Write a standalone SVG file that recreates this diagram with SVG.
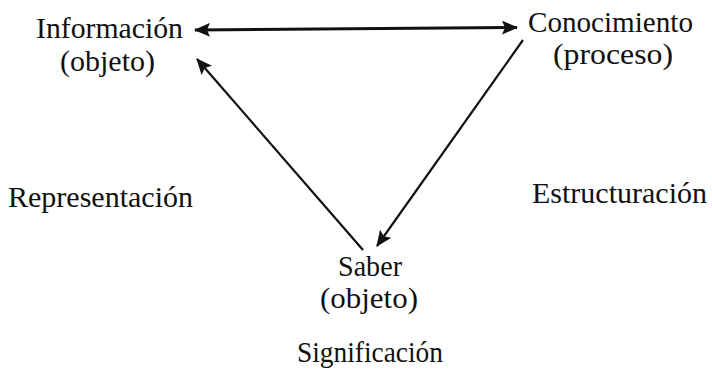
<svg xmlns="http://www.w3.org/2000/svg" width="712" height="373" viewBox="0 0 712 373">
<style>
.t{font-size:29px;fill:#111;text-anchor:middle}
.c{stroke:#111;fill:none;stroke-linecap:butt}
</style>
<defs>
<marker id="ah" viewBox="0 0 16 14" refX="15" refY="7" markerWidth="16" markerHeight="14" markerUnits="userSpaceOnUse" orient="auto-start-reverse">
<path d="M0,0 L16,7 L0,14 L3,7 Z" fill="#111"/>
</marker>
</defs>
<rect width="712" height="373" fill="#fff"/>
<g id="connectors">
<line class="c" x1="195" y1="30" x2="517" y2="27.5" stroke-width="3" marker-start="url(#ah)" marker-end="url(#ah)"/>
<line class="c" x1="363" y1="250" x2="197" y2="59" stroke-width="2.2" marker-end="url(#ah)"/>
<line class="c" x1="523" y1="40" x2="377" y2="246" stroke-width="2.2" marker-end="url(#ah)"/>
</g>
<g font-family="'Liberation Serif', 'DejaVu Serif', serif">
<g id="informacion">
<text class="t" x="109.5" y="38" textLength="147" lengthAdjust="spacingAndGlyphs">Información</text>
<text class="t" x="107.5" y="71" textLength="95" lengthAdjust="spacingAndGlyphs">(objeto)</text>
</g>
<g id="conocimiento">
<text class="t" x="610.5" y="32" textLength="165" lengthAdjust="spacingAndGlyphs">Conocimiento</text>
<text class="t" x="613" y="64" textLength="120" lengthAdjust="spacingAndGlyphs">(proceso)</text>
</g>
<g id="saber">
<text class="t" x="370" y="276" textLength="64" lengthAdjust="spacingAndGlyphs">Saber</text>
<text class="t" x="369" y="308" textLength="98" lengthAdjust="spacingAndGlyphs">(objeto)</text>
</g>
<g id="representacion"><text class="t" x="100.5" y="207" textLength="185" lengthAdjust="spacingAndGlyphs">Representación</text></g>
<g id="estructuracion"><text class="t" x="619.5" y="203" textLength="175" lengthAdjust="spacingAndGlyphs">Estructuración</text></g>
<g id="significacion"><text class="t" x="370" y="362" textLength="146" lengthAdjust="spacingAndGlyphs">Significación</text></g>
</g>
</svg>
